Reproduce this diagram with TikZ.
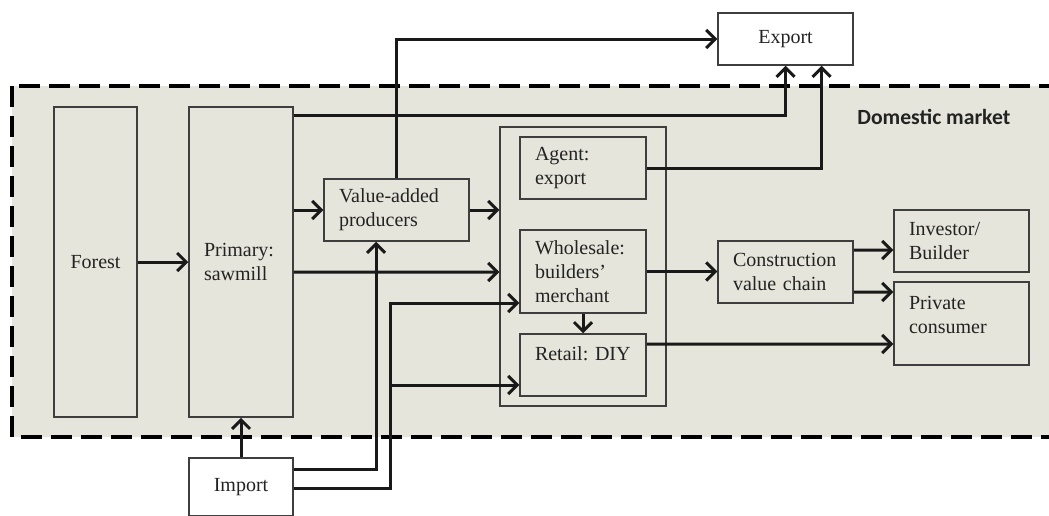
\documentclass[tikz,border=0pt]{standalone}
\usepackage{fontspec}
\setmainfont{Liberation Serif}
\newfontfamily\labelfont{Carlito}
\usepackage{tikz}
\usetikzlibrary{arrows.meta,calc}
\definecolor{marketbg}{RGB}{229,229,219}
\definecolor{boxline}{RGB}{62,62,62}
\definecolor{inkgrey}{RGB}{35,35,35}

\begin{document}
\begin{tikzpicture}[x=0.6pt, y=-0.6pt,
    stepbox/.style={rectangle, draw=boxline, line width=0.9pt, fill=marketbg,
        font=\fontsize{12}{14.4}\selectfont, text=inkgrey, align=left,
        inner xsep=9pt, inner ysep=0pt},
    endbox/.style={stepbox, fill=white, align=center},
    flow/.style={-{Straight Barb[length=5.4pt,width=10.8pt]}, line width=1.8pt, black!90}
]
    \clip (0,0) rectangle (1049,515);
    \draw[black, line width=2.4pt, dash pattern=on 12.6pt off 5.4pt, fill=marketbg]
        (12,86) rectangle (1070,437);
    \node[font=\labelfont\bfseries\fontsize{13}{15}\selectfont, text=inkgrey,
        anchor=west, inner sep=0pt] (domestic) at (857,117) {Domestic market};

    \node[stepbox, minimum width=99.6pt, minimum height=167.4pt] (trade) at (583,266.5) {};
    \node[stepbox, align=center, minimum width=49.8pt, minimum height=186pt] (forest) at (95.5,262) {Forest};
    \node[stepbox, text width=44.4pt, minimum height=186pt] (primary) at (241,262) {Primary:\\sawmill};
    \node[stepbox, text width=69pt, minimum height=37.2pt] (valueadded) at (396.5,210) {Value-added\\producers};
    \node[stepbox, text width=57.6pt, minimum height=37.2pt] (agent) at (583,168) {Agent:\\export};
    \node[stepbox, text width=57.6pt, minimum height=49.8pt] (wholesale) at (583,271.5) {Wholesale:\\builders'\\merchant};
    \node[stepbox, text width=57.6pt, minimum height=37.2pt, text height=9pt, text depth=14.2pt] (retail) at (583,365) {\mbox{Retail:\ DIY}};
    \node[stepbox, text width=63pt, minimum height=37.2pt] (construction) at (785.5,272) {Construction\\value chain};
    \node[stepbox, text width=63pt, minimum height=37.2pt] (investor) at (961.5,241) {Investor/\\Builder};
    \node[stepbox, text width=63pt, minimum height=49.8pt, text height=9pt, text depth=25.6pt] (private) at (961.5,323.5) {Private\\consumer};
    \node[endbox, minimum width=81pt, minimum height=31.2pt] (export) at (785.5,39) {Export};
    \node[endbox, minimum width=62.4pt, minimum height=34.8pt] (import) at (241,487) {Import};

    \draw[flow] (forest) -- (primary);
    \draw[flow] (primary.east |- valueadded.west) -- (valueadded.west);
    \draw[flow] (valueadded.east) -- (valueadded.east -| trade.west);
    \draw[flow] ([yshift=-6pt]primary.east) -- ([yshift=-3.3pt]trade.west);
    \draw[flow] ([yshift=-5.4pt]primary.north east) -| (export.south);
    \draw[flow] (valueadded.north) |- (export.west);
    \draw[flow] (agent.east) -| ([xshift=21.6pt]export.south);
    \draw[flow] (import) -- (primary);
    \draw[flow] ([yshift=-7.2pt]import.north east) -| ([xshift=-12.3pt]valueadded.south);
    \draw[flow] ([yshift=-18.6pt]import.north east) -- ++(58.2pt,0) coordinate (split) |- ([yshift=-18.9pt]wholesale.west);
    \draw[flow] ($(split |- retail.west)+(0,-12pt)$) -- ([yshift=-12pt]retail.west);
    \draw[flow] (wholesale) -- (retail);
    \draw[flow] (wholesale.east) -- (wholesale.east -| construction.west);
    \draw[flow] ([yshift=13.2pt]construction.east) -- ([yshift=-5.4pt]investor.west);
    \draw[flow] ([yshift=-12pt]construction.east) -- ([yshift=18.9pt]private.west);
    \draw[flow] ([yshift=12.6pt]retail.east) -- ([yshift=-12.3pt]private.west);
\end{tikzpicture}
\end{document}
